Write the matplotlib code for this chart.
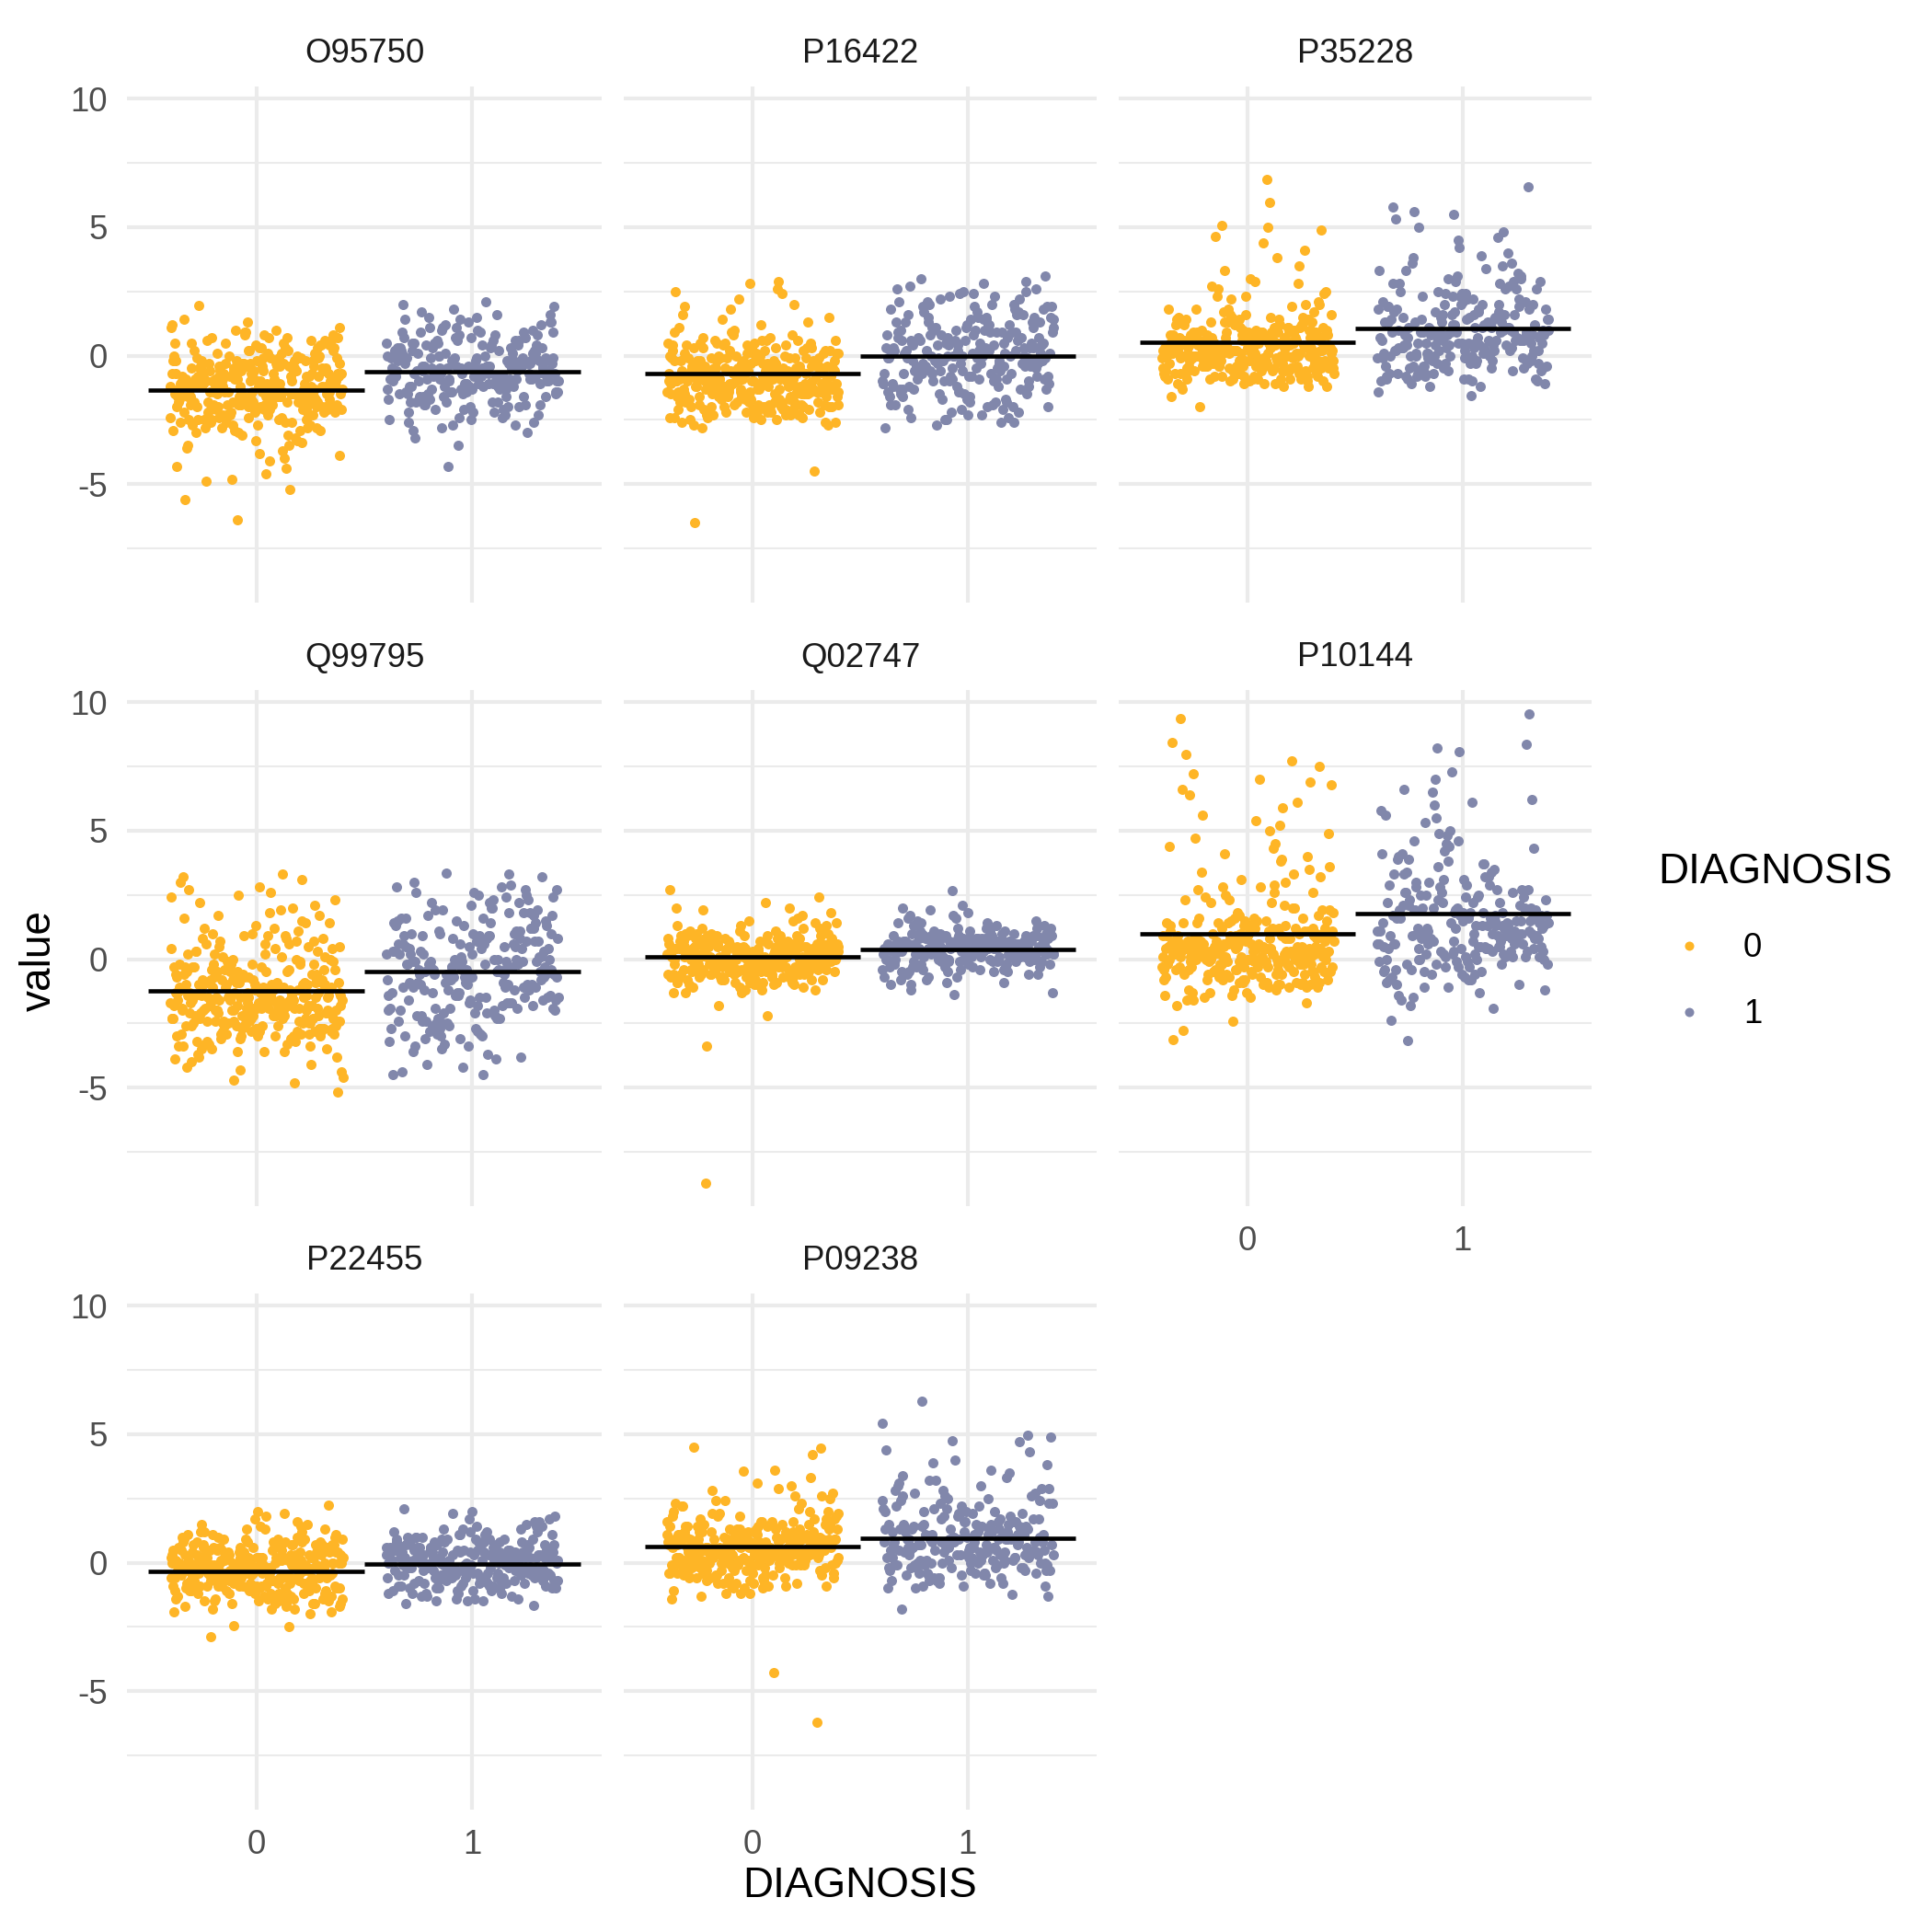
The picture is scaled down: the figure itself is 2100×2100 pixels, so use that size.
import matplotlib
matplotlib.use("Agg")
import matplotlib.pyplot as plt
from matplotlib.lines import Line2D
import numpy as np

plt.rcParams['font.family'] = ['Liberation Sans', 'DejaVu Sans']

# ---------------- data ----------------
proteins = ['O95750', 'P16422', 'P35228', 'Q99795', 'Q02747', 'P10144', 'P22455', 'P09238']
diagnosis_levels = ['0', '1']
x_tick_labels = ['0', '1']
y_ticks = [-5, 0, 5, 10]
y_tick_labels = ['-5', '0', '5', '10']
y_minor_ticks = [-7.5, -2.5, 2.5, 7.5]

# group means (horizontal black bars) per protein
mean_diag0 = [-1.36, -0.70, 0.52, -1.25, 0.10, 0.99, -0.35, 0.61]
mean_diag1 = [-0.61, -0.03, 1.06, -0.50, 0.36, 1.79, -0.05, 0.95]

O95750_0 = [
    -1.2, -0.4, -2.1, 0.3, -1.7, -0.9, -1.5, -2.4, 0.8, -1.1, -0.2, -1.9, -3.1, -0.7, -1.4, 0.1, -2.2, -1.0, -0.5, -1.8,
    -2.7, -0.3, -1.3, 0.6, -1.6, -2.0, -0.8, -3.5, -1.2, 0.4, -0.6, -2.5, -1.1, -1.9, 1.2, -0.1, -1.4, -2.9, -0.9, -1.6,
    -0.2, -2.3, -1.0, -4.1, -0.7, -1.5, 0.9, -1.8, -2.6, -0.4, -1.2, -3.8, 0.2, -1.7, -0.9, -2.1, -1.3, -0.6, -2.8, -1.0,
    1.4, -1.5, -0.3, -2.0, -4.6, -1.1, -0.8, -1.9, 0.5, -2.4, -1.4, -0.5, -3.3, -1.6, 0.0, -2.2, -0.7, -1.2, -4.9, -0.2,
    -1.8, -2.6, 0.7, -1.0, -1.3, -0.4, -3.0, -2.1, -0.9, 1.1, -1.6, -2.5, -0.1, -1.4, -3.6, -0.6, -1.9, 0.3, -2.3, -1.1,
    -0.8, -1.7, -4.3, -0.3, -2.0, 0.6, -1.2, -2.7, -1.5, -0.5, -3.9, -0.9, -1.8, 0.1, -2.4, -1.3, -5.2, -0.7, -1.0, -2.1,
    1.95, -0.2, -1.6, -2.9, -0.4, -1.1, 0.4, -2.2, -1.4, -3.2, -0.8, -1.9, -0.1, -2.5, -1.2, 0.8, -1.7, -4.4, -0.6, -1.5,
    -2.0, -0.9, -3.4, 1.0, -1.3, -0.3, -2.6, -1.8, -0.7, -5.6, -1.0, -2.3, 0.2, -1.6, -0.5, -2.8, -1.4, -0.2, -3.7, -1.1,
    -0.6, -2.1, 0.5, -1.5, -4.8, -0.8, -1.9, -2.4, -0.4, 1.3, -1.2, -3.1, -0.9, -1.7, -0.1, -2.0, -1.3, -6.4, -0.7, -2.5,
    -1.0, 0.0, -1.8, -3.5, -0.5, -1.4, -2.2, 0.7, -1.1, -2.7, -0.3, -1.6, -4.0, -0.8, -2.0, 0.3, -1.2, -2.9, -0.6, -1.5,
    -1.0, -0.3, -1.7, 0.2, -2.2, -0.8, -1.4, 0.6, -1.9, -0.5, -2.5, -1.2, 0.0, -1.6, -0.9, -2.0, 0.4, -1.3, -0.6, -2.3,
    -0.1, -1.5, -2.8, -0.7, 0.9, -1.1, -1.8, -0.4, -2.1, 0.3, -1.0, -1.7, -0.2, -2.4, -1.3, 0.7, -0.8, -1.9, -1.4, -0.5,
    -2.6, -0.9, 0.1, -1.2, -1.6, -0.3, -2.0, 0.5, -1.5, -0.6, -2.7, -1.1, -0.1, -1.8, 1.1, -0.7, -2.2, -1.3, 0.2, -1.0,
    -0.4, -2.3, -1.4, 0.8, -0.8, -1.7, -3.0, -0.2, -1.1, -1.9, 0.4, -0.6, -2.5, -1.5, 0.0, -1.2, -2.1, -0.9, 0.6, -1.6,
    -1.3, 0.3, -2.4, -0.5, -1.0, -1.8, -0.1, -2.9, -0.7, 1.0, -1.4, -2.0, -0.3, -1.1, -2.6, 0.5, -0.9, -1.6, -0.4, -2.2,
    -0.6, -1.5, 0.1, -2.1, -1.2, -0.2, -1.9, -3.3, -0.8, 0.7, -1.7, -1.0, -2.3, -0.4, -1.3, 0.2, -2.8, -0.7, -1.4, -0.1,
]
O95750_1 = [
    -0.5, 0.3, -1.2, -0.8, 0.9, -0.2, -1.6, -0.4, 0.6, -1.0, -2.1, 0.1, -0.7, -1.3, 1.4, -0.1, -0.9, -1.8, 0.4, -0.6,
    -1.1, 0.0, -2.4, -0.3, 1.1, -0.8, -1.5, 0.7, -0.5, -2.8, -0.2, 0.5, -1.2, -0.7, 1.8, -1.9, -0.4, -1.0, 0.2, -1.4,
    0.8, -0.6, -2.0, -0.1, -1.1, 1.6, -0.9, -0.3, -1.7, 0.3, -2.5, -0.5, 1.0, -1.3, -0.8, 0.1, -2.2, -0.2, -1.6, 0.6,
    -0.7, 2.1, -1.0, -0.4, -3.0, 0.4, -1.2, -0.6, 1.3, -1.9, 0.0, -0.9, -2.6, 0.9, -0.3, -1.4, -0.1, 1.7, -1.1, -0.5,
    -1.5, 0.2, -0.8, -2.3, 0.7, -0.2, -1.0, 1.2, -0.6, -1.8, -0.4, 0.5, -3.5, -0.9, 1.5, -1.3, -0.1, -2.0, 0.3, -0.7,
    0.1, -1.2, -0.5, 1.9, -2.7, -0.3, -1.6, 0.8, -0.8, -1.1, 0.4, -2.1, -0.2, -1.4, 1.0, -0.6, -4.3, 0.6, -1.0, -0.4,
    -1.7, 1.4, -0.9, -0.1, -2.4, 0.2, -1.3, -0.7, 1.1, -0.5, -2.9, 0.0, -1.5, 0.7, -0.3, -1.9, 1.6, -0.8, -1.2, -0.2,
    0.5, -1.0, -2.2, -0.6, 1.3, -1.4, -0.4, 0.9, -1.8, -0.1, -0.7, -2.6, 0.3, -1.1, 2.0, -0.5, -1.6, 0.1, -0.9, -3.2,
    -0.4, -1.0, 0.6, -0.7, -1.5, 0.2, -0.2, -1.2, 1.2, -0.9, -0.5, -1.8, 0.4, -0.1, -1.4, 0.9, -0.6, -2.2, 0.0, -1.1,
    -0.8, 0.5, -1.6, -0.3, 1.5, -1.0, -0.5, -2.0, 0.1, -0.7, -1.3, 0.8, -0.2, -1.7, -0.9, 0.3, -2.5, -0.4, 1.0, -1.2,
    0.2, -0.6, -1.4, -0.1, 0.7, -1.9, -0.8, 0.0, -1.1, -2.3, 0.6, -0.3, -1.5, -0.7, 1.3, -1.0, -0.2, -1.6, 0.4, -0.9,
    -1.3, 0.1, -0.5, -2.1, 0.9, -0.8, -0.1, -1.2, -2.7, 0.5, -0.6, -1.4, 1.1, -0.3, -0.9, -1.8, 0.3, -0.4, -1.1, 0.0,
]
P16422_0 = [
    -0.8, -1.5, 0.2, -1.1, -2.0, -0.4, 0.5, -1.7, -0.9, -2.3, -0.1, -1.3, 1.2, -0.6, -1.9, -1.0, 0.0, -2.5, -0.7, -1.4,
    -0.3, -1.8, 0.8, -1.2, -0.5, -2.1, -0.8, 0.3, -1.6, -1.0, 2.4, -0.2, -1.4, -2.2, -0.6, 0.6, -1.1, -1.9, -0.4, -0.9,
    -1.3, 0.1, -2.6, -0.7, -1.5, 1.5, -0.3, -1.0, -2.0, -0.5, 0.4, -1.7, -1.2, -0.1, -2.4, -0.8, 2.0, -1.4, -0.6, -1.9,
    0.7, -1.1, -0.2, -2.1, -0.9, -1.6, 0.2, -1.3, -2.7, -0.4, 1.0, -0.7, -1.8, -1.0, -0.3, 2.8, -1.5, -2.3, 0.5, -1.2,
    -0.6, -1.9, -0.1, -1.4, 0.9, -2.0, -0.8, -1.1, 0.0, -2.5, -0.5, 1.8, -1.6, -0.9, -1.3, 0.3, -2.2, -0.2, -1.0, -1.7,
    -0.4, 0.6, -1.2, -2.4, -0.7, -1.5, 2.6, -0.1, -1.8, -1.0, 0.4, -2.1, -0.6, -1.3, -0.3, -2.8, 1.3, -0.9, -1.6, -0.5,
    -1.1, 0.1, -1.9, -0.8, -2.3, 0.8, -1.4, -0.2, -1.0, -4.5, -0.6, 1.6, -1.7, -1.2, 0.2, -2.0, -0.4, -1.5, 2.2, -0.9,
    -1.3, -0.5, -2.2, 0.5, -1.8, -0.1, -1.1, -2.6, 0.7, -0.7, -1.4, -0.3, 1.1, -2.1, -0.9, -1.6, 0.0, -6.5, -1.2, -0.6,
    -2.4, 0.3, -1.0, -0.4, -1.7, 1.9, -0.8, -2.2, -1.3, 0.6, -0.2, -1.5, -0.9, 2.5, -1.9, -0.5, -1.1, 0.1, -2.0, -0.7,
    0.9, -1.4, -0.3, -2.3, -1.0, 0.4, -1.6, -0.6, 1.4, -2.7, -0.8, -1.2, 0.2, -1.8, -0.1, 2.9, -1.5, -0.4, -2.1, -1.0,
    -0.9, -1.6, -0.2, -1.2, 0.3, -2.1, -0.6, -1.4, -0.8, 0.0, -1.9, -1.1, -0.4, -2.3, -0.7, 0.5, -1.5, -1.0, -0.3, -1.8,
    -1.3, -0.1, -2.0, -0.8, 0.2, -1.6, -1.1, -0.5, -2.4, -0.9, 0.6, -1.4, -0.2, -1.7, -1.2, -0.6, 0.1, -2.2, -1.0, -0.4,
    -0.7, -1.8, 0.4, -1.3, -0.9, -2.5, -0.3, -1.5, 0.0, -1.1, -0.6, -2.0, -1.4, 0.3, -0.8, -1.7, -0.1, -1.2, -2.2, -0.5,
    -1.5, -0.3, -1.0, -2.1, 0.5, -0.7, -1.3, -0.4, -1.9, -1.1, 0.1, -0.9, -2.4, -0.2, -1.6, -0.6, -1.2, 0.4, -2.0, -0.8,
    -0.2, -1.4, -0.9, 0.2, -1.7, -2.3, -0.5, -1.0, -0.1, -1.8, -1.3, 0.6, -0.7, -2.1, -1.1, -0.4, -1.5, 0.0, -0.9, -2.6,
    -1.2, 0.3, -0.6, -1.9, -1.0, -0.3, -2.2, -0.8, -1.4, 0.1, -1.6, -0.5, -2.0, -1.1, 0.5, -0.7, -1.3, -0.2, -1.8, -0.9,
]
P16422_1 = [
    0.4, -1.2, 1.5, -0.3, 0.9, -1.8, 0.1, 2.2, -0.7, 0.6, -2.3, 1.1, -0.5, 0.0, 1.9, -1.0, 0.3, -1.5, 2.6, -0.2,
    -0.9, 1.3, -0.1, -2.0, 0.7, 1.7, -0.6, 0.2, -1.4, 2.4, -0.4, 0.8, -2.6, 1.0, -0.8, 0.5, -1.7, 2.0, -0.2, 1.4,
    -1.1, 0.0, 2.9, -0.5, 0.9, -1.9, 1.2, -0.3, 0.4, -2.4, 1.6, -0.9, 0.1, 2.3, -1.3, 0.6, -0.7, 1.8, -2.1, 0.3,
    1.1, -0.4, -1.6, 0.8, 3.1, -1.0, 0.2, -0.6, 1.5, -2.8, 0.5, -0.1, 2.1, -1.2, 0.7, -0.8, 1.3, -1.5, 0.0, 2.7,
    -0.3, 0.9, -2.2, 1.6, -0.7, 0.4, -1.1, 2.5, -0.2, 1.0, -1.7, 0.1, -0.5, 1.9, -2.5, 0.6, -0.9, 1.2, -0.1, -1.4,
    0.3, 2.0, -0.6, -1.3, 1.4, -0.2, 0.8, -2.0, 0.5, 2.8, -1.0, 0.0, -0.4, 1.7, -1.8, 0.2, 1.1, -0.8, -2.7, 0.7,
    -0.1, 1.5, -1.1, 0.4, 2.2, -0.6, 0.9, -1.6, -0.3, 1.3, 0.0, -2.1, 0.6, 2.4, -0.9, -0.2, 1.8, -1.3, 0.3, -0.7,
    1.0, -1.5, 0.2, -0.5, 2.6, -2.3, 0.7, -0.1, 1.2, -1.2, 0.5, 1.9, -0.8, -0.3, 3.0, -1.9, 0.1, -0.6, 1.5, -1.0,
    0.1, -0.7, 1.0, -1.3, 0.5, 1.6, -0.4, -2.0, 0.8, 0.2, -1.0, 1.3, -0.2, 2.1, -1.6, 0.4, -0.6, 0.9, -2.4, 0.0,
    1.4, -0.9, 0.3, -0.3, 2.3, -1.2, 0.6, -0.5, 1.1, -1.8, 0.2, 1.7, -0.8, 0.0, -2.2, 0.7, 1.2, -0.1, -1.4, 0.5,
    -0.6, 0.9, -1.5, 0.1, 1.8, -0.2, -2.6, 0.4, 1.0, -1.1, 0.6, 2.5, -0.4, -0.9, 1.3, -1.7, 0.3, -0.3, 0.8, -2.1,
    0.2, 1.5, -1.0, 0.7, -0.5, 2.0, -1.9, 0.0, 1.1, -0.7, 0.5, -1.3, 1.9, -0.1, -2.5, 0.9, -0.6, 1.4, 0.3, -1.2,
]
P35228_0 = [
    0.2, -0.5, 0.8, 0.0, 1.1, -0.8, 0.4, -0.2, 0.6, 1.5, -0.6, 0.1, 0.9, -0.3, 2.1, 0.3, -0.9, 0.5, 1.3, -0.1,
    0.7, -0.4, 0.0, 1.0, -1.1, 0.3, 2.6, -0.2, 0.5, 0.9, -0.7, 0.2, 1.8, -0.5, 0.6, 0.1, -1.0, 1.2, 0.4, 3.3,
    -0.3, 0.8, 0.0, -0.6, 1.4, 0.2, -0.9, 0.5, 4.9, 0.1, -0.2, 0.7, 1.6, -0.8, 0.3, -0.4, 1.0, 2.3, -0.1, 0.6,
    0.4, -1.2, 0.9, 0.0, 1.2, -0.5, 0.2, 3.8, -0.3, 0.7, 0.1, -0.7, 1.9, 0.5, -0.2, 6.85, 0.3, -1.0, 0.8, 1.4,
    -0.6, 0.2, 1.1, -0.1, 0.5, 2.8, -0.9, 0.0, 0.6, -0.4, 1.7, 0.3, -1.3, 0.9, 0.1, -0.3, 4.4, 0.4, 1.3, -0.7,
    0.8, -0.2, 0.0, 2.0, -0.8, 0.5, 1.0, -0.5, 0.2, 5.96, -0.1, 0.7, -1.1, 1.5, 0.3, -0.4, 2.5, 0.6, -0.6, 0.1,
    1.2, -0.3, 0.4, -0.9, 0.9, 3.0, 0.0, -0.5, 0.7, 1.6, -0.2, -2.0, 0.3, 1.1, -0.7, 0.5, 4.65, 0.2, -0.4, 0.8,
    0.1, 2.2, -0.6, 0.6, -0.1, 1.3, -1.0, 0.4, 0.0, 5.05, -0.3, 0.9, 1.8, -0.8, 0.2, -1.6, 0.5, 2.7, -0.2, 0.7,
    -0.5, 1.0, 0.3, -0.7, 4.98, 0.1, 1.4, -0.4, 0.6, -1.2, 0.0, 2.4, 0.8, -0.1, 3.5, 0.2, -0.9, 1.1, 0.4, -0.3,
    0.9, 0.0, -0.6, 1.7, 0.3, -1.1, 0.5, 4.1, -0.2, 0.7, 1.2, -0.8, 0.2, 2.9, -0.4, 0.6, 0.1, -0.7, 1.5, 0.4,
    0.3, -0.2, 0.7, -0.6, 0.1, 1.0, -0.4, 0.5, -0.9, 0.2, 0.8, -0.1, 1.3, -0.7, 0.4, 0.0, -0.5, 0.9, 0.2, -0.3,
    0.6, -0.8, 0.1, 1.2, -0.2, 0.4, -1.0, 0.7, 0.0, -0.4, 1.5, 0.3, -0.6, 0.8, -0.1, 0.5, -1.2, 1.1, 0.2, -0.5,
    -0.1, 0.9, 0.4, -0.7, 0.1, 1.4, -0.3, 0.6, -0.9, 0.3, 0.0, 1.8, -0.5, 0.5, -0.2, 1.0, -0.8, 0.2, 0.7, -0.4,
    0.8, -0.3, 0.0, 1.1, -0.6, 0.4, -1.1, 0.2, 0.9, -0.2, 0.6, -0.9, 1.3, 0.1, -0.4, 0.5, 2.0, -0.7, 0.3, 0.0,
    0.2, -0.5, 1.0, -0.1, 0.6, -1.0, 0.3, 0.9, -0.3, 0.1, 1.6, -0.7, 0.4, -0.2, 0.8, -0.6, 0.0, 1.2, -0.4, 0.5,
    -0.2, 0.7, -0.8, 0.3, 1.4, -0.1, 0.5, -0.5, 0.1, 1.0, -1.2, 0.6, 0.2, -0.3, 2.3, 0.4, -0.9, 0.8, 0.0, -0.6,
]
P35228_1 = [
    0.5, 1.8, -0.3, 2.6, 0.1, 1.2, -0.8, 3.1, 0.7, -0.1, 2.0, 0.3, 1.5, -0.6, 0.9, 3.6, 0.0, 1.1, -1.0, 2.3,
    0.6, -0.4, 1.4, 2.8, 0.2, -0.9, 1.7, 0.4, 3.3, -0.2, 1.0, 0.8, 2.2, -0.7, 0.1, 1.9, 4.2, 0.5, -1.2, 1.3,
    2.5, 0.0, -0.5, 1.6, 0.9, 3.8, 0.3, -0.1, 1.2, 2.1, -0.8, 0.6, 5.3, 1.4, 0.2, -0.3, 2.7, 0.7, 1.8, -1.4,
    0.4, 3.0, -0.6, 1.1, 0.0, 2.4, 0.8, -0.2, 4.8, 1.5, 0.3, -1.1, 2.0, 0.6, 1.3, 3.4, -0.4, 0.9, 6.56, 0.1,
    1.7, -0.7, 0.5, 2.9, 0.2, 1.0, -0.5, 3.9, 0.7, 1.6, -0.1, 2.3, 0.4, 5.8, -0.9, 1.2, 0.0, 2.6, 0.8, -0.3,
    1.4, 0.3, 3.2, -0.8, 0.6, 1.9, 4.5, -0.2, 1.1, 0.9, 2.8, -1.54, 0.5, 1.3, -0.6, 3.6, 0.1, 2.1, 5.5, 0.7,
    -0.4, 1.5, 0.2, 2.4, -1.0, 0.9, 4.0, 0.4, 1.7, -0.1, 3.0, 0.6, 5.0, 1.2, -0.7, 2.0, 0.0, 1.0, 3.5, 0.3,
    2.2, 0.8, -0.5, 1.6, 5.6, 0.1, 1.3, 2.9, -0.3, 0.5, 4.6, 1.8, -0.9, 0.7, 2.5, 0.2, 1.1, -1.2, 3.3, 0.9,
    0.6, 1.4, -0.2, 0.9, 2.1, 0.2, -0.7, 1.6, 0.4, 1.1, -0.4, 2.4, 0.7, 0.0, 1.3, -0.9, 0.5, 1.8, 0.1, 2.8,
    1.0, -0.3, 0.8, 1.5, 0.3, -1.1, 2.0, 0.6, 1.2, -0.5, 0.9, 0.2, 1.7, -0.1, 2.6, 0.4, 1.1, -0.8, 0.7, 1.4,
    -0.6, 1.9, 0.5, 0.0, 1.3, 2.3, -0.2, 0.8, 1.6, 0.3, -1.0, 1.0, 0.6, 2.9, -0.4, 1.2, 0.1, 1.7, 0.9, -0.7,
    1.5, 0.2, 2.2, -0.3, 0.7, 1.1, -0.9, 0.4, 1.8, 0.0, 3.1, 0.9, -0.5, 1.4, 0.5, 2.0, -0.1, 1.0, 0.3, 1.6,
]
Q99795_0 = [
    -1.8, 0.4, -2.6, -1.1, 1.7, -2.2, -0.5, -3.0, -1.5, 2.3, -1.9, -0.8, -2.9, 0.9, -1.3, -3.6, -2.1, 0.1, -1.7, -2.5,
    -0.2, -2.0, -1.4, 1.2, -3.3, -0.9, -2.4, 3.2, -1.6, -0.4, -2.8, 0.6, -1.0, -2.3, -4.3, -1.8, 1.9, -0.7, -2.7, -1.2,
    -2.1, 0.0, -1.5, -3.8, 2.6, -1.9, -0.6, -2.5, -1.1, 0.8, -3.1, -2.0, -0.3, -1.4, 1.5, -2.6, -4.6, -0.9, -1.7, 0.3,
    -2.3, -1.0, 2.0, -2.9, -0.1, -1.6, -3.5, 0.5, -2.2, -1.3, 3.3, -0.5, -2.7, -1.8, -4.0, 1.1, -0.8, -2.4, -1.2, -3.2,
    0.7, -1.7, -2.0, -0.4, -2.8, 1.4, -1.5, -3.7, -0.9, 2.5, -2.3, -1.1, -0.2, -3.0, -1.9, 0.2, -4.8, -1.4, -2.6, 1.8,
    -1.0, -2.5, -0.7, -3.4, 0.9, -1.6, -2.1, 2.8, -0.3, -2.9, -1.3, -4.4, 0.4, -1.8, -0.6, -2.2, 1.6, -3.1, -1.1, -2.7,
    -0.5, 2.2, -2.0, -1.5, -3.9, 0.1, -2.4, -0.9, 1.3, -1.7, -2.8, -0.2, -5.16, -1.2, 0.6, -2.3, -1.9, 3.0, -3.3, -0.8,
    -1.4, -2.6, 0.3, -1.0, -3.6, 2.4, -1.8, -0.4, -2.2, 1.0, -4.2, -1.6, -0.1, -2.9, -1.3, 0.8, -2.5, -0.6, -3.0, -2.0,
    1.7, -1.1, -2.7, -0.3, -1.9, -4.7, 0.5, -2.1, -1.5, 2.1, -0.7, -3.4, -1.2, -2.4, 0.0, -1.8, -3.8, 1.4, -0.9, -2.3,
    -1.6, 0.2, -2.8, -1.0, 2.7, -3.2, -0.5, -2.0, -1.4, 1.2, -4.1, -2.6, -0.2, -1.7, 0.7, -3.5, -1.3, -2.2, 3.1, -0.8,
    -1.6, -2.2, -0.8, -1.9, -2.8, -0.3, -1.4, -2.5, 0.4, -1.7, -2.1, -1.0, -3.0, -0.6, -2.3, -1.5, 0.8, -1.9, -2.6, -1.2,
    -2.0, -0.9, -1.6, -2.4, -0.2, -1.3, -2.9, -1.8, 0.1, -2.1, -1.1, -3.2, -1.5, -0.5, -2.3, -1.7, 1.0, -2.7, -0.8, -1.4,
    -1.9, -2.5, -0.4, -1.2, -2.0, -3.4, -0.7, -1.6, -2.2, 0.5, -1.0, -2.8, -1.4, -0.1, -2.4, -1.8, -3.0, -0.9, -1.5, -2.1,
    -0.6, -1.7, -2.6, -1.1, 0.2, -2.3, -1.4, -3.1, -0.3, -1.9, -2.0, -0.8, -2.7, -1.3, 0.7, -1.6, -2.4, -1.0, -3.3, -1.8,
    -2.2, -1.2, -0.5, -2.9, -1.5, -1.9, 0.3, -2.5, -0.9, -1.7, -2.1, -3.5, -1.3, -0.2, -2.6, -1.6, -1.0, -2.3, 0.9, -1.4,
    -1.8, -2.7, -0.7, -1.1, -2.0, -0.4, -3.0, -1.6, -2.4, 0.0, -1.3, -2.2, -0.9, -2.8, -1.5, -1.9, 0.6, -2.5, -1.2, -3.6,
]
Q99795_1 = [
    -0.3, 1.6, -1.8, 0.4, -2.5, 2.2, -0.9, 0.9, -1.4, -3.1, 1.2, -0.1, 2.8, -2.0, 0.2, -0.7, 1.9, -1.2, -3.6, 0.6,
    -1.6, 0.0, 2.5, -0.5, -2.3, 1.4, -1.0, 0.7, -2.9, 3.3, -0.2, -1.5, 1.0, -0.8, -3.8, 0.3, 2.0, -1.9, -0.4, 1.7,
    -2.6, 0.5, -1.1, 2.6, -0.6, -3.3, 1.1, -0.1, -2.1, 0.8, -1.3, 2.3, -4.1, -0.4, 1.5, -1.7, 0.1, -2.7, 2.9, -0.9,
    0.4, -1.9, -0.3, 1.8, -2.4, 0.0, -4.5, 1.3, -1.1, -0.6, 2.4, -3.0, 0.7, -1.5, 3.34, -0.2, -2.2, 0.9, -0.8, -1.3,
    1.2, -2.8, -0.5, 0.2, 2.1, -1.6, -3.5, 0.6, -0.1, 1.6, -2.0, -0.7, 2.7, -1.2, -3.9, 0.3, -0.4, 1.9, -2.5, -1.0,
    -0.2, 2.5, -1.4, -2.6, 0.8, -0.6, 1.4, -3.2, 0.1, -1.8, 2.2, -0.9, -4.4, 1.0, -0.3, -2.1, 0.5, 3.0, -1.5, -0.7,
    1.5, -1.0, -2.4, 0.0, 2.8, -3.4, -0.5, 1.1, -1.7, 0.4, -2.9, 1.7, -0.8, -0.1, -2.2, 2.3, -1.3, -4.2, 0.7, -0.4,
    -1.1, 0.9, -2.7, 1.3, -0.6, -1.9, 2.6, -3.7, 0.2, -1.4, 1.8, -0.2, -2.3, 0.6, -1.6, 3.2, -3.0, -0.3, 1.0, -4.5,
    -0.6, 0.8, -1.5, 0.2, -2.2, 1.4, -0.9, -0.1, 1.9, -1.7, 0.5, -2.8, 0.0, -1.2, 1.1, -0.4, 2.2, -2.0, 0.6, -1.0,
    -0.3, -1.8, 1.6, -0.7, 0.3, -2.5, 1.0, -1.1, -0.2, 2.7, -1.4, 0.7, -3.1, -0.5, 1.3, -0.8, 0.1, -2.3, 1.8, -1.6,
    0.9, -0.4, -1.9, 0.4, -1.0, 2.0, -2.7, -0.1, 1.2, -1.3, -0.6, 0.6, -2.1, 1.5, -0.9, 0.0, -3.4, 0.8, -1.5, -0.2,
    -1.2, 1.7, -0.5, -2.4, 0.5, -0.8, 1.0, -1.7, 0.2, -3.0, 2.4, -0.3, -1.1, 0.9, -2.0, 0.3, -0.7, 1.4, -1.9, -0.1,
]
Q02747_0 = [
    0.1, -0.4, 0.5, -0.1, 0.3, -0.6, 0.8, 0.0, -0.3, 0.4, 0.2, -0.8, 0.6, -0.2, 1.0, 0.1, -0.5, 0.3, -0.1, 0.7,
    -0.4, 0.2, 0.9, -0.7, 0.0, 0.5, -0.2, 1.2, -0.5, 0.3, -0.9, 0.1, 0.6, -0.3, 0.4, -1.1, 0.8, 0.0, -0.6, 0.2,
    0.5, -0.1, 1.5, -0.4, 0.3, -0.8, 0.1, 0.7, -0.2, 0.0, 1.1, -0.6, 0.4, -0.3, 0.9, -1.0, 0.2, 0.6, -0.5, 0.1,
    -0.2, 0.8, 0.0, -1.2, 0.4, 0.2, -0.7, 1.3, -0.1, 0.5, -0.4, 0.3, 2.7, -0.9, 0.1, 0.6, -0.3, 1.0, -0.6, 0.0,
    0.3, -0.5, 0.7, 0.1, -1.3, 0.4, -0.2, 0.9, -0.8, 0.2, 0.0, 1.6, -0.4, 0.5, -0.1, -3.4, 0.3, -0.7, 0.8, 0.2,
    -0.3, 0.6, -0.9, 0.1, 1.2, -0.5, 0.4, 0.0, -0.2, 2.4, -0.6, 0.3, -1.0, 0.7, 0.1, -0.4, 1.9, -0.1, 0.5, -0.8,
    0.2, -1.8, 0.4, -0.3, 0.9, 0.0, -0.6, 0.6, 0.3, -0.2, 1.4, -0.9, 0.1, -0.5, 0.8, -0.1, 2.2, -0.4, 0.5, -1.1,
    0.0, 0.7, -0.3, 0.4, -0.8, 1.1, 0.2, -0.5, 0.6, -0.1, -8.7, 0.3, -0.7, 0.9, 0.1, -0.2, 0.5, -1.2, 0.2, 1.7,
    -0.4, 0.3, 0.8, -0.6, 0.1, -0.2, 1.0, -0.9, 0.4, 0.0, -2.2, 0.6, -0.3, 0.2, 1.3, -0.7, 0.5, -0.1, 0.3, -0.5,
    0.6, -0.1, 0.2, -1.0, 0.9, 0.0, -0.4, 0.4, 2.0, -0.7, 0.1, -0.2, 0.7, -0.6, 0.3, -1.3, 0.5, 0.0, 1.2, -0.3,
    0.2, -0.3, 0.6, 0.0, -0.5, 0.4, -0.1, 0.9, -0.7, 0.3, 0.1, -0.4, 0.7, -0.2, 0.5, -0.9, 0.2, 1.1, -0.6, 0.0,
    -0.1, 0.5, -0.8, 0.3, 0.8, -0.2, 0.1, -0.5, 1.3, 0.4, -0.3, 0.0, 0.6, -1.0, 0.2, 0.9, -0.4, 0.3, -0.7, 0.1,
    0.4, 0.0, -0.6, 0.7, -0.2, 1.0, -0.4, 0.2, -1.1, 0.5, 0.1, -0.3, 0.8, -0.1, 0.3, -0.8, 1.5, 0.0, -0.5, 0.6,
    -0.4, 0.3, 0.1, -0.9, 0.6, -0.1, 1.2, -0.3, 0.4, -0.6, 0.0, 0.8, -0.2, 0.5, -1.2, 0.2, 0.7, -0.5, 0.1, 1.8,
    0.1, -0.7, 0.5, 0.2, -0.2, 0.9, -0.5, 0.3, 0.0, -1.0, 0.6, -0.1, 1.4, -0.4, 0.2, -0.8, 0.4, 0.7, -0.3, 0.0,
    0.3, -0.5, 0.8, -0.1, 0.0, -0.7, 0.5, 1.0, -0.3, 0.2, -1.3, 0.6, -0.2, 0.4, 0.9, -0.6, 0.1, -0.4, 2.0, 0.3,
]
Q02747_1 = [
    0.4, 0.1, 0.7, -0.2, 0.5, 0.9, 0.2, -0.5, 0.6, 0.3, 1.1, -0.1, 0.4, 0.8, 0.0, 0.5, -0.4, 0.7, 0.2, 1.0,
    0.3, -0.3, 0.6, 0.9, 0.1, 1.3, 0.4, -0.7, 0.5, 0.2, 0.8, -0.1, 0.6, 1.8, 0.3, 0.0, 0.7, -0.5, 0.4, 1.2,
    0.6, 0.2, -0.2, 0.9, 0.4, 2.1, 0.1, 0.5, -0.9, 0.7, 0.3, 1.0, -0.3, 0.6, 0.2, 1.4, 0.0, 0.8, -0.6, 0.4,
    0.1, 0.7, 1.1, -0.1, 0.5, 0.3, -1.2, 0.8, 0.2, 2.66, 0.6, -0.4, 0.4, 0.9, 0.0, 1.5, 0.3, -0.2, 0.7, 0.5,
    0.8, -0.5, 0.4, 0.2, 1.2, 0.6, -0.1, 0.3, 1.9, 0.5, -0.8, 0.1, 0.7, 0.4, 1.0, -0.3, 0.6, 0.2, -1.37, 0.9,
    0.3, 1.3, 0.0, 0.5, -0.6, 0.8, 0.2, 1.6, 0.4, -0.2, 0.7, 0.1, 1.1, 0.5, -1.0, 0.3, 0.9, 0.6, -0.4, 2.0,
    0.5, 0.2, 0.9, -0.1, 0.6, 1.2, 0.3, -0.7, 0.4, 0.8, 0.0, 1.4, 0.2, -0.3, 0.7, 0.5, 1.7, 0.1, -1.3, 0.6,
    0.4, 1.0, -0.5, 0.3, 0.7, 0.1, 1.1, -0.2, 0.5, 0.8, 0.2, -0.9, 0.6, 1.5, 0.4, 0.0, 0.9, -0.1, 0.3, 0.6,
    0.5, 0.2, 0.8, -0.1, 0.4, 1.0, 0.3, -0.4, 0.6, 0.1, 0.9, 0.4, -0.2, 0.7, 1.2, 0.2, 0.5, -0.6, 0.8, 0.3,
    0.0, 0.6, 0.4, 1.1, -0.3, 0.5, 0.2, 0.9, 0.7, -0.5, 0.3, 1.3, 0.1, 0.6, -0.1, 0.8, 0.4, 1.6, 0.2, -0.8,
    0.7, 0.3, -0.2, 0.5, 1.0, 0.1, 0.6, -0.4, 0.9, 0.4, 0.2, 1.4, -0.1, 0.5, 0.8, 0.0, 0.3, 1.1, -0.6, 0.6,
    0.4, 0.9, 0.1, -0.3, 0.7, 0.5, 1.2, 0.2, -0.7, 0.6, 0.3, 0.8, -0.1, 1.0, 0.4, -1.0, 0.5, 0.2, 1.7, 0.7,
]
P10144_0 = [
    0.2, -0.6, 0.9, 0.0, 1.4, -0.3, 0.5, 3.6, -0.9, 0.3, 1.1, -0.1, 0.7, 5.2, -0.5, 0.4, 1.6, -1.2, 0.1, 2.3,
    -0.4, 0.8, 0.2, 6.9, -0.8, 0.6, 1.3, -0.2, 0.0, 2.8, 0.4, -1.0, 0.9, 4.4, -0.6, 0.3, 1.0, -1.5, 0.5, 7.7,
    0.1, -0.3, 1.5, 0.7, -1.1, 3.1, 0.2, 0.9, -0.5, 1.9, 0.4, -0.1, 6.1, 0.6, -0.7, 1.2, 0.0, 2.6, -1.3, 0.3,
    0.8, -0.2, 4.9, 0.1, 1.4, -0.9, 0.5, 8.43, -0.4, 0.2, 1.7, 0.0, -1.6, 3.3, 0.6, -0.3, 1.1, 5.6, 0.4, -0.8,
    0.3, 2.1, -0.6, 0.7, 0.0, 7.2, 1.0, -1.2, 0.5, 2.9, -0.1, 0.2, 1.3, -2.76, 0.8, 4.1, -0.5, 0.4, 1.6, 0.1,
    -0.9, 0.6, 3.8, 0.2, -0.3, 1.2, 6.4, 0.0, 0.9, -1.4, 0.4, 2.4, -0.2, 0.7, 9.36, 0.3, -0.7, 1.5, 0.1, 4.7,
    0.5, -0.4, 1.1, 0.0, 2.2, -1.1, 0.6, 7.95, 0.2, -0.6, 1.8, 0.4, 3.4, -0.1, 0.8, -1.8, 5.9, 0.3, 1.0, -0.3,
    0.7, 0.1, -2.4, 1.4, 4.3, 0.0, -0.5, 0.9, 6.6, 0.2, -0.8, 1.9, 0.5, 2.7, -0.2, 0.6, -3.15, 1.2, 0.3, 7.5,
    -0.1, 0.4, 2.0, -0.7, 0.9, 5.0, 0.1, -1.0, 1.3, 0.6, 3.0, -0.4, 0.2, 7.0, 0.8, -0.2, 1.6, 0.0, 4.5, -1.3,
    0.5, 1.1, -0.6, 0.3, 2.5, 6.8, -0.1, 0.7, -1.7, 1.0, 0.2, 3.9, -0.4, 0.9, 5.4, 0.1, -0.9, 1.5, 0.4, 2.2,
    0.3, -0.5, 0.8, 0.1, -0.2, 1.2, -0.8, 0.5, 0.0, 1.6, -0.4, 0.6, -1.0, 0.2, 0.9, -0.6, 0.4, 2.0, -0.1, 0.7,
    -0.3, 0.5, 1.1, -0.9, 0.2, 0.0, 1.4, -0.5, 0.6, -1.3, 0.3, 0.8, -0.2, 2.6, 0.1, -0.7, 1.0, 0.4, -1.1, 0.6,
    0.9, -0.1, 0.3, -0.6, 1.7, 0.2, -1.0, 0.5, 3.2, 0.0, -0.4, 1.2, 0.7, -0.8, 0.4, -1.5, 0.1, 1.5, -0.3, 0.8,
    0.2, 1.0, -0.7, 0.6, -0.2, 0.4, 1.3, -1.2, 0.0, 0.8, -0.5, 2.3, 0.3, -0.1, 1.1, -0.9, 0.5, 4.0, 0.1, -0.4,
    -0.6, 0.7, 0.1, 1.5, -0.3, 0.5, -1.4, 0.9, 0.2, -0.8, 1.2, 0.0, 0.6, -0.2, 2.8, 0.3, -1.0, 0.8, 0.4, 1.8,
    0.5, -0.2, 1.0, -0.9, 0.3, 0.7, -0.5, 1.4, 0.1, -1.1, 0.6, 3.5, -0.3, 0.9, 0.2, -0.7, 1.2, 0.0, -1.6, 0.4,
]
P10144_1 = [
    1.2, 0.3, 2.6, -0.4, 1.8, 4.1, 0.7, 2.0, -1.1, 1.5, 3.3, 0.1, 0.9, 5.5, 1.4, -0.2, 2.4, 0.6, 3.8, 1.0,
    0.4, 2.9, -0.8, 1.7, 6.2, 0.8, 1.3, -1.6, 2.2, 0.0, 3.1, 1.1, 4.6, 0.5, -0.5, 1.9, 8.37, 0.2, 2.7, 1.6,
    -0.1, 1.4, 3.6, 0.9, 2.1, -1.3, 0.6, 5.0, 1.0, 2.5, 0.3, -2.37, 1.8, 4.3, 0.7, 1.2, 6.6, -0.6, 2.3, 0.1,
    1.5, 3.0, 0.4, -0.9, 2.0, 9.56, 1.1, 0.5, 4.0, -0.3, 1.7, 2.8, 0.8, -1.8, 1.3, 5.8, 0.2, 2.4, 1.0, 3.5,
    0.6, -0.7, 1.9, 7.0, 0.9, 2.6, 0.0, 1.4, 4.8, -1.0, 1.2, 3.2, 0.4, 8.07, 2.0, 0.7, -0.2, 1.6, 6.1, 0.3,
    2.2, 1.0, -1.5, 3.7, 0.5, 1.8, 0.1, 5.3, 1.3, -0.4, 2.9, 0.8, 8.2, 1.1, -3.17, 2.5, 0.6, 4.4, 1.5, 0.0,
    3.4, 0.9, -0.6, 1.6, 6.5, 0.2, 2.1, 1.0, -1.2, 4.2, 0.7, 1.9, 0.4, 5.6, -0.1, 2.7, 1.2, 0.5, 3.9, -0.8,
    1.4, 4.9, 0.3, 2.3, -0.5, 1.1, 7.3, 0.6, 2.0, -1.9, 1.7, 3.1, 0.8, 6.0, 0.1, 2.6, 1.3, -0.2, 4.5, 0.9,
    1.0, 0.4, 2.2, -0.3, 1.5, 3.0, 0.7, 1.9, -0.8, 1.2, 2.6, 0.1, 0.9, 3.7, 1.4, 0.3, 2.0, -0.5, 1.7, 0.6,
    2.4, 0.8, -0.2, 1.3, 3.4, 0.5, 1.1, -1.1, 2.1, 0.0, 1.6, 2.9, 0.4, 1.0, -0.6, 1.8, 4.1, 0.7, 1.3, 0.2,
    0.6, 1.9, 3.2, -0.4, 1.2, 0.3, 2.5, 0.9, -1.0, 1.6, 0.1, 2.3, 1.1, 3.9, 0.5, -0.1, 1.4, 2.7, 0.8, 1.0,
    -0.7, 1.5, 0.4, 2.0, 1.2, 3.3, 0.2, 1.7, -0.3, 0.9, 2.8, 1.3, 0.0, 4.6, 1.1, 0.6, 2.2, -1.4, 1.8, 0.5,
]
P22455_0 = [
    -0.3, 0.4, -0.9, 0.1, -0.5, 0.8, -1.2, -0.1, 0.3, -0.7, 1.1, -0.4, -1.5, 0.2, -0.2, 0.6, -1.0, 0.0, -0.6, 1.4,
    -0.8, 0.1, -0.3, 0.9, -1.3, -0.5, 0.4, -0.1, -1.7, 0.7, -0.4, 0.0, -0.9, 1.2, -0.2, 0.3, -1.1, 0.5, -0.6, -1.4,
    0.2, -0.7, 1.6, -0.3, -1.0, 0.5, -0.1, -1.6, 0.8, -0.5, 0.1, -0.9, 2.25, -0.4, 0.3, -1.2, 0.0, -0.6, 0.9, -1.8,
    -0.2, 0.6, -0.8, -1.4, 0.2, 1.0, -0.5, -0.1, -1.1, 0.4, -0.3, 1.9, -0.9, 0.0, -1.5, 0.7, -0.4, -2.45, 0.3, -0.7,
    0.5, -1.0, -0.2, 0.8, -0.6, 0.1, -1.3, 1.3, -0.4, -0.8, 0.2, -1.9, 0.6, -0.1, -0.5, 1.7, -1.1, 0.0, -0.3, 0.4,
    -1.2, 0.3, -0.6, 0.9, -0.2, -1.6, 0.1, 0.6, -0.9, -0.4, 1.2, -0.7, 0.2, -1.3, -2.89, 0.4, -0.1, -1.0, 0.7, -0.5,
    0.0, -0.8, 1.5, -0.3, 0.3, -1.4, -0.6, 0.5, -0.2, 2.0, -1.1, 0.1, -0.5, -1.7, 0.8, -0.9, 0.2, -0.4, 1.0, -2.5,
    -0.7, 0.4, -0.1, -1.2, 0.9, -0.5, 0.0, -1.5, 0.6, -0.3, -0.9, 1.1, -0.2, 0.3, -1.0, -0.6, 0.7, -1.99, 0.1, -0.4,
    0.8, -0.3, -1.1, 0.2, -0.7, 1.4, -0.5, 0.0, -1.6, 0.5, -0.1, -0.8, 0.9, -1.3, 0.3, -0.4, 1.8, -0.9, -0.2, 0.6,
    -0.6, 0.1, -1.4, 0.7, -0.2, -0.9, 1.0, -0.4, 0.4, -1.8, 0.0, -0.7, 1.3, -0.3, -1.2, 0.5, -0.5, 0.2, -1.0, -0.1,
    -0.4, 0.2, -0.8, -0.1, 0.5, -1.1, -0.3, 0.1, -0.6, 0.7, -1.4, -0.2, 0.3, -0.9, 0.0, -0.5, 1.0, -1.2, -0.3, 0.4,
    -0.7, 0.0, -1.0, 0.6, -0.4, -1.6, 0.2, -0.2, -0.8, 0.9, -0.5, -1.3, 0.1, -0.1, -0.9, 0.5, -0.6, -1.5, 0.3, -0.3,
    0.1, -0.6, -1.2, 0.4, -0.2, 1.2, -0.9, -0.4, 0.0, -1.7, 0.6, -0.5, -0.1, -1.0, 0.8, -0.3, -1.4, 0.2, -0.7, -0.2,
    -0.5, 0.3, -0.1, -1.1, 0.7, -0.8, -0.3, 1.5, -0.6, 0.1, -1.3, -0.2, 0.4, -0.9, -0.4, 0.9, -1.6, 0.0, -0.7, 0.2,
    -0.2, -1.0, 0.5, -0.5, 0.1, -1.5, -0.3, 0.8, -0.8, -0.1, 0.3, -1.2, 1.1, -0.6, -0.4, 0.0, -1.8, 0.4, -0.9, -0.2,
    0.6, -0.7, -0.2, -1.3, 0.2, -0.5, 1.3, -1.0, -0.1, 0.4, -0.8, -1.6, 0.0, -0.4, 0.7, -1.1, -0.3, 0.3, -0.6, -1.9,
]
P22455_1 = [
    0.2, -0.4, 0.7, -0.1, 0.4, -0.8, 1.1, 0.0, -0.5, 0.5, -1.2, 0.3, 0.9, -0.3, 1.6, -0.7, 0.1, -0.2, 0.6, -1.0,
    -0.3, 0.8, 0.0, -0.9, 0.4, 1.3, -0.6, 0.2, -0.1, 2.1, -1.4, 0.5, -0.4, 0.1, 1.0, -0.8, 0.3, -1.1, 0.6, -0.2,
    0.4, -0.5, 1.2, -0.2, 0.0, -1.3, 0.7, 0.1, -0.7, 1.9, -0.3, 0.3, -1.0, 0.6, -0.1, 1.4, -0.6, 0.2, -1.6, 0.5,
    -0.4, 0.9, -0.1, 0.3, -0.9, 0.0, 1.1, -0.5, 0.6, -1.2, 0.2, 2.0, -0.3, 0.4, -0.7, 0.1, 0.8, -1.0, -0.2, 1.5,
    0.0, -0.6, 0.5, -1.5, 0.3, 0.7, -0.2, 1.0, -0.8, 0.1, -0.4, 1.3, 0.2, -1.1, 0.6, -0.3, -1.68, 0.4, 0.9, -0.1,
    0.3, -0.9, 0.8, -0.2, 0.1, 1.2, -0.7, 0.5, -0.4, -1.3, 0.0, 0.6, 1.7, -0.5, 0.2, -0.1, -1.0, 0.7, 0.4, -0.6,
    -0.2, 1.0, 0.1, -1.1, 0.5, -0.3, 0.8, -0.8, 0.2, 1.4, -0.5, 0.0, -1.4, 0.6, 0.3, -0.6, 1.1, -0.2, 0.4, -0.9,
    0.6, -0.1, -0.7, 0.9, 0.1, -1.2, 0.4, 1.8, -0.4, 0.2, -0.8, 0.7, -0.3, 0.0, 1.2, -1.5, 0.5, -0.2, 0.8, -0.5,
    0.1, -0.5, 0.6, -0.2, 0.3, -0.9, 0.9, 0.0, -0.6, 0.4, -1.1, 0.2, 1.3, -0.3, 0.5, -0.7, 0.1, -1.4, 0.7, -0.1,
    -0.4, 0.8, -0.1, 0.3, -1.0, 0.5, 0.0, -0.6, 1.1, -0.2, 0.4, -1.3, 0.6, 0.1, -0.8, 1.6, -0.3, 0.2, -0.5, 0.9,
    0.3, -0.7, 0.0, 1.0, -0.4, 0.6, -1.2, 0.2, -0.1, 0.8, -0.9, 0.4, 1.4, -0.5, 0.1, -0.2, -1.5, 0.7, 0.3, -0.8,
    -0.3, 0.5, 1.2, -0.6, 0.2, -1.0, 0.0, 0.7, -0.4, 1.7, -0.1, 0.3, -0.7, 0.9, -1.2, 0.4, -0.2, 0.6, 0.1, -0.9,
]
P09238_0 = [
    0.5, 1.1, -0.2, 0.8, 0.3, 1.6, -0.5, 0.6, 1.0, 0.1, 2.2, 0.4, -0.8, 0.9, 0.2, 1.4, -0.1, 0.7, 1.8, 0.0,
    0.6, -0.3, 1.2, 0.4, 2.6, -0.6, 0.9, 0.1, 1.5, 0.3, -1.0, 0.8, 0.5, 1.9, -0.2, 0.7, 4.49, 0.2, 1.1, -0.4,
    1.3, 0.0, 0.6, -0.7, 1.0, 3.0, 0.4, -0.1, 0.8, 1.7, 0.2, -1.2, 0.9, 0.5, 2.4, -0.5, 1.2, 0.3, 0.7, -0.9,
    0.1, 1.5, 0.6, 4.2, -0.3, 0.8, 1.1, 0.0, 2.0, 0.4, -0.6, 0.9, 1.3, -1.4, 0.5, 2.8, 0.2, 0.7, -0.2, 1.6,
    0.9, -0.4, 0.3, 1.2, 0.6, 3.57, 0.0, 1.0, -0.8, 0.5, 1.4, 0.2, 2.1, -0.1, 0.8, -4.28, 0.4, 1.7, 0.6, -0.5,
    0.3, 1.0, 2.5, -0.2, 0.7, 0.1, 1.3, -1.1, 0.5, 0.9, 4.45, 0.4, -0.6, 1.1, 0.2, 1.8, 0.6, -0.3, 3.3, 0.8,
    0.0, 1.2, 0.5, -0.9, 1.6, 0.3, 2.3, 0.7, -0.4, 1.0, 0.2, -6.2, 0.8, 1.4, -0.1, 0.6, 2.7, 0.4, -1.3, 1.1,
    0.7, 0.2, 1.5, -0.5, 0.9, 3.1, 0.1, 0.6, -0.2, 1.9, 0.4, -0.7, 1.2, 0.8, 2.2, 0.0, 0.5, 1.3, -1.0, 0.3,
    1.0, -0.1, 0.6, 2.9, 0.2, 0.9, -0.8, 1.4, 0.5, 0.0, 1.7, 0.3, -0.4, 2.0, 0.7, 1.1, -0.6, 0.4, 1.5, 0.8,
    0.2, 1.3, -0.3, 0.7, 3.6, 0.5, 1.0, -1.2, 0.1, 0.8, 2.4, 0.6, -0.5, 1.2, 0.3, 1.8, -0.1, 0.9, 0.4, 2.6,
    0.4, 0.9, -0.1, 0.6, 1.3, 0.2, -0.5, 0.8, 0.1, 1.1, 0.5, -0.3, 0.7, 1.6, 0.0, 0.4, -0.8, 0.9, 0.3, 1.2,
    0.6, -0.2, 1.0, 0.3, 0.7, -0.6, 1.4, 0.1, 0.5, 0.9, -0.4, 0.2, 1.8, 0.6, -0.1, 0.8, 0.4, -1.0, 1.1, 0.3,
    0.0, 0.7, 1.2, -0.3, 0.5, 0.2, 1.5, -0.7, 0.9, 0.4, 0.1, 2.0, -0.2, 0.6, 1.0, 0.3, -0.5, 0.8, 1.3, 0.0,
    0.5, -0.4, 0.8, 1.1, 0.2, -0.9, 0.6, 1.7, 0.1, 0.4, -0.1, 0.9, 1.4, 0.3, -0.6, 0.7, 0.0, 1.2, 0.5, -1.2,
    0.8, 0.3, -0.2, 1.0, 0.6, 2.3, 0.1, -0.5, 0.7, 1.3, 0.4, -0.8, 0.9, 0.2, 1.6, -0.3, 0.5, 1.1, 0.0, 0.6,
    0.2, 1.4, -0.6, 0.7, 0.4, 1.0, -0.1, 0.8, 1.9, 0.3, -0.4, 0.6, 1.2, 0.0, 0.9, -0.9, 0.5, 1.5, 0.2, 0.7,
]
P09238_1 = [
    0.8, 1.5, -0.3, 2.2, 0.4, 1.1, -0.8, 3.4, 0.6, 0.0, 1.8, 0.2, 2.7, -0.5, 1.3, 0.9, 4.96, 0.1, 1.6, -0.1,
    0.5, 2.4, -0.6, 1.0, 0.3, 3.0, 0.7, -0.2, 1.9, 6.3, 0.1, 1.2, -0.9, 0.8, 2.1, 0.4, 1.4, -0.4, 3.8, 0.6,
    1.1, -0.2, 2.5, 0.2, 0.9, 4.3, -0.7, 1.7, 0.5, 0.0, 2.9, 0.8, -1.22, 1.3, 0.3, 5.44, 1.0, -0.3, 2.0, 0.6,
    -0.1, 1.6, 0.4, 3.2, 0.9, -0.5, 1.2, 2.3, 0.1, 4.7, 0.7, -0.8, 1.5, 0.3, 2.6, 0.0, 1.0, -1.82, 1.9, 0.5,
    2.8, 0.2, 1.4, -0.4, 0.8, 4.0, 0.6, 1.1, -0.1, 2.2, 0.3, 1.7, -0.6, 3.5, 0.9, 0.4, 4.9, 1.3, -0.2, 0.7,
    1.2, -0.7, 2.0, 0.5, 3.9, 0.1, 1.5, 0.8, -0.3, 2.6, 1.0, -1.0, 0.4, 4.4, 1.8, 0.2, -0.5, 1.3, 3.1, 0.6,
    0.0, 2.3, 0.9, -0.2, 1.4, 0.3, 4.75, 1.1, -0.9, 2.0, 0.7, 1.6, -0.4, 0.5, 3.3, 1.2, 0.1, -1.3, 2.5, 0.8,
    0.7, 1.3, -0.2, 1.9, 0.4, 0.9, -0.6, 2.4, 0.2, 1.1, 0.0, 1.6, 0.6, -0.4, 2.1, 0.8, 1.4, -0.1, 0.5, 2.8,
    1.0, 0.3, -0.7, 1.5, 0.6, 2.2, -0.3, 0.9, 1.2, 0.1, 3.6, 0.5, -0.5, 1.7, 0.8, 0.0, 2.6, 1.1, -0.9, 0.4,
    1.6, -0.1, 0.7, 2.0, 0.3, 1.3, -0.4, 0.9, 3.0, 0.2, 1.0, -0.8, 1.8, 0.5, 0.1, 2.3, 0.8, -0.2, 1.4, 0.6,
    0.2, 1.2, 2.7, -0.6, 0.9, 0.4, 1.5, -0.1, 2.1, 0.7, 0.0, 1.1, -1.0, 1.9, 0.5, 3.2, 0.3, 1.3, -0.3, 0.8,
    1.7, 0.1, 0.6, -0.5, 2.4, 1.0, 0.3, 1.5, -0.2, 0.8, 2.0, 0.4, -0.7, 1.2, 0.9, 0.0, 2.9, 0.6, 1.4, -0.4,
]

values_diag0 = [O95750_0, P16422_0, P35228_0, Q99795_0, Q02747_0, P10144_0, P22455_0, P09238_0]
values_diag1 = [O95750_1, P16422_1, P35228_1, Q99795_1, Q02747_1, P10144_1, P22455_1, P09238_1]

# ---------------- style ----------------
colors = ['#FEB526', '#8187AB']
grid_color = '#EBEBEB'
tick_color = '#4D4D4D'
W = H = 2100
fig = plt.figure(figsize=(7, 7), dpi=300)

cols_px = [(138, 654), (678, 1192), (1216, 1730)]
rows_px = [(94, 655), (750, 1311), (1406, 1967)]
title_y_px = [59, 715, 1371]

all_vals = np.concatenate([np.array(v, float) for v in values_diag0 + values_diag1])
lo, hi = all_vals.min(), all_vals.max()
rng = hi - lo
ylim = (lo - 0.05 * rng, hi + 0.05 * rng)

jitter_steps = [0.6180339887, 0.4142135624]


def jitter(n, step, phase):
    k = np.arange(n)
    return ((k * step + phase) % 1.0) * 0.8 - 0.4


def px2fig(x, y):
    return x / W, 1 - y / H


for i, prot in enumerate(proteins):
    r, c = divmod(i, 3)
    (x0, x1), (y0, y1) = cols_px[c], rows_px[r]
    ax = fig.add_axes([x0 / W, 1 - y1 / H, (x1 - x0) / W, (y1 - y0) / H])
    ax.set_xlim(-0.6, 1.6)
    ax.set_ylim(*ylim)
    for s in ax.spines.values():
        s.set_visible(False)
    ax.set_axisbelow(True)
    ax.set_xticks([0, 1])
    ax.set_yticks(y_ticks)
    ax.set_yticks(y_minor_ticks, minor=True)
    ax.grid(True, which='major', color=grid_color, linewidth=1.0)
    ax.grid(True, which='minor', axis='y', color=grid_color, linewidth=0.5)
    ax.tick_params(which='both', length=0, pad=5, labelsize=8.8, colors=tick_color)

    show_x = (r == 2) or (i == 5)
    if show_x:
        ax.set_xticklabels(x_tick_labels)
    else:
        ax.set_xticklabels([])
    if c == 0:
        ax.set_yticklabels(y_tick_labels)
    else:
        ax.set_yticklabels([])

    for g, vals in enumerate([values_diag0[i], values_diag1[i]]):
        v = np.array(vals, float)
        xj = g + jitter(len(v), jitter_steps[g], 0.13 * i + 0.31 * g)
        ax.scatter(xj, v, s=7, color=colors[g], linewidths=0, zorder=2)
    ax.hlines([mean_diag0[i], mean_diag1[i]], [-0.5, 0.5], [0.5, 1.5],
              colors='black', linewidth=1.1, zorder=3)

    fx, fy = px2fig((x0 + x1) / 2, title_y_px[r])
    fig.text(fx, fy, prot, ha='center', va='center', fontsize=8.8, color='#1A1A1A')

# axis titles
fx, fy = px2fig(935, 2050)
fig.text(fx, fy, 'DIAGNOSIS', ha='center', va='center', fontsize=11, color='black')
fx, fy = px2fig(43, 1044)
fig.text(fx, fy, 'value', ha='center', va='center', fontsize=11, rotation=90, color='black')

# legend
fx, fy = px2fig(1802, 948)
fig.text(fx, fy, 'DIAGNOSIS', ha='left', va='center', fontsize=11, color='black')
for g, (lab, ypx) in enumerate(zip(diagnosis_levels, [1028, 1100])):
    dx, dy = px2fig(1836, ypx)
    fig.add_artist(Line2D([dx], [dy], transform=fig.transFigure, marker='o', markersize=2.4,
                          color=colors[g], markeredgewidth=0, linestyle='none'))
    tx, ty = px2fig(1895, ypx + 2)
    fig.text(tx, ty, lab, ha='left', va='center', fontsize=8.8, color='black')

fig.savefig('out.png', dpi=300, facecolor='white')
